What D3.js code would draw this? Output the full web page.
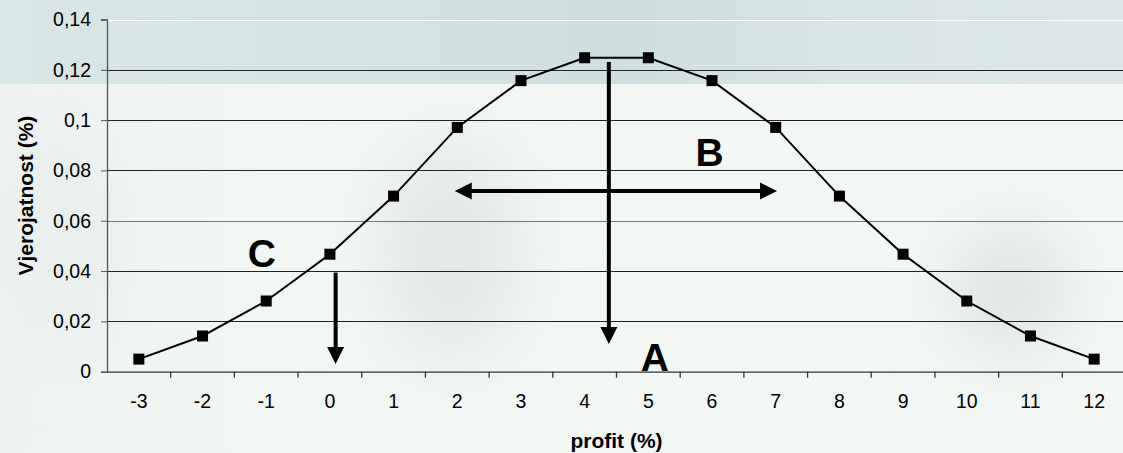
<!DOCTYPE html>
<html>
<head>
<meta charset="utf-8">
<script src="https://cdn.jsdelivr.net/npm/d3@7"></script>
<style>
  html, body { margin: 0; padding: 0; background: #f1f6f3; }
  svg { display: block; }
  text { font-family: "Liberation Sans", Arial, sans-serif; fill: #000; }
</style>
</head>
<body>
<svg id="chart" width="1123" height="453"></svg>
<script>
// ---- data ----
const categories = [-3, -2, -1, 0, 1, 2, 3, 4, 5, 6, 7, 8, 9, 10, 11, 12];
const probability = [0.005, 0.0142, 0.0281, 0.0467, 0.0698, 0.0971, 0.1157, 0.1248,
                     0.1248, 0.1157, 0.0971, 0.0698, 0.0467, 0.0281, 0.0142, 0.005];
const yTicks = [0, 0.02, 0.04, 0.06, 0.08, 0.1, 0.12, 0.14];
const xTitle = "profit (%)";
const yTitle = "Vjerojatnost (%)";
// annotation arrows in data units
const arrows = [
  { x1: 4.38, y1: 0.1231, x2: 4.38, y2: 0.0110, both: false },
  { x1: 1.96, y1: 0.0718, x2: 7.02, y2: 0.0718, both: true },
  { x1: 0.09, y1: 0.0394, x2: 0.09, y2: 0.0031, both: false }
];
const letters = [
  { t: "A", x: 5.10, y: 0.0004 },
  { t: "B", x: 5.96, y: 0.0819 },
  { t: "C", x: -1.07, y: 0.0417 }
];

// ---- layout ----
const W = 1123, H = 453;
const pLeft = 107, pRight = 1126, pTop = 19.5, pBottom = 371.7;
const svg = d3.select("#chart");

// ---- background ----
const defs = svg.append("defs");
const g1 = defs.append("linearGradient").attr("id", "band").attr("x1", 0).attr("x2", 1).attr("y1", 0).attr("y2", 0);
[[0, "#dae6e6"], [0.35, "#d4e2e2"], [0.55, "#cfdede"], [0.75, "#d9e4e4"], [1, "#dce6e6"]]
  .forEach(([o, c]) => g1.append("stop").attr("offset", o).attr("stop-color", c));
const g2 = defs.append("linearGradient").attr("id", "low").attr("x1", 0).attr("x2", 1).attr("y1", 0).attr("y2", 0);
[[0, "#eef3f1"], [0.3, "#f2f7f4"], [1, "#f2f7f4"]]
  .forEach(([o, c]) => g2.append("stop").attr("offset", o).attr("stop-color", c));
defs.append("filter").attr("id", "blur").attr("x", "-50%").attr("y", "-50%").attr("width", "200%").attr("height", "200%")
  .append("feGaussianBlur").attr("stdDeviation", 35);

svg.append("rect").attr("x", 0).attr("y", 0).attr("width", W).attr("height", H).attr("fill", "url(#low)");
const blobs = svg.append("g").attr("filter", "url(#blur)");
blobs.append("ellipse").attr("cx", 450).attr("cy", 250).attr("rx", 70).attr("ry", 110).attr("fill", "#e3e8e5");
blobs.append("ellipse").attr("cx", 1010).attr("cy", 290).attr("rx", 55).attr("ry", 60).attr("fill", "#dde2df");
blobs.append("ellipse").attr("cx", 60).attr("cy", 240).attr("rx", 50).attr("ry", 110).attr("fill", "#e8eeeb");
svg.append("rect").attr("x", 0).attr("y", 0).attr("width", W).attr("height", 84).attr("fill", "url(#band)");

// ---- scales ----
const x = d3.scaleBand().domain(categories).range([pLeft, pRight]).padding(0);
const bw = x.bandwidth();
const xc = d => x(d) + bw / 2;
const xLin = d3.scaleLinear().domain([categories[0], categories[categories.length - 1]])
  .range([xc(categories[0]), xc(categories[categories.length - 1])]);
const y = d3.scaleLinear().domain([0, 0.14]).range([pBottom, pTop]);
const fmt = d => d === 0 ? "0" : d3.format(".2~f")(d).replace(".", ",");

// ---- gridlines ----
svg.append("g").selectAll("line").data(yTicks.filter(d => d > 0)).join("line")
  .attr("x1", pLeft).attr("x2", pRight)
  .attr("y1", d => Math.round(y(d)) + 0.5).attr("y2", d => Math.round(y(d)) + 0.5)
  .attr("stroke", d => d === 0.14 ? "#ffffff" : (d === 0.06 ? "#777" : "#222"))
  .attr("stroke-width", 1.2);

// ---- axes ----
const yAxis = svg.append("g").attr("transform", `translate(${pLeft},0)`)
  .call(d3.axisLeft(y).tickValues(yTicks).tickFormat(fmt).tickSize(6).tickPadding(10));
yAxis.select(".domain").attr("stroke", "#555").attr("stroke-width", 1.3);
yAxis.selectAll(".tick line").attr("stroke", "#555");
yAxis.selectAll("text").style("font-size", "19.5px").style("font-family", "Liberation Sans, Arial, sans-serif");

const xAxis = svg.append("g").attr("transform", `translate(0,${pBottom})`)
  .call(d3.axisBottom(x).tickSize(0).tickPadding(22));
xAxis.select(".domain").attr("stroke", "#333").attr("stroke-width", 1.3);
xAxis.selectAll("text").style("font-size", "19.5px").style("font-family", "Liberation Sans, Arial, sans-serif");
svg.append("g").selectAll("line").data(categories.slice(1)).join("line")
  .attr("x1", d => x(d)).attr("x2", d => x(d))
  .attr("y1", pBottom).attr("y2", pBottom + 6)
  .attr("stroke", "#333").attr("stroke-width", 1.3);

// ---- series ----
const pts = categories.map((c, i) => ({ c, v: probability[i] }));
svg.append("path").datum(pts)
  .attr("d", d3.line().x(d => xc(d.c)).y(d => y(d.v)))
  .attr("fill", "none").attr("stroke", "#000").attr("stroke-width", 2);
const ms = 11;
svg.append("g").selectAll("rect").data(pts).join("rect")
  .attr("x", d => xc(d.c) - ms / 2).attr("y", d => y(d.v) - ms / 2)
  .attr("width", ms).attr("height", ms).attr("fill", "#000");

// ---- annotations ----
const headLen = 17, headHalf = 8.5;
function arrowHead(px, py, dx, dy) {
  const len = Math.hypot(dx, dy), ux = dx / len, uy = dy / len;
  const bx = px - ux * headLen, by = py - uy * headLen;
  return `M${px},${py}L${bx - uy * headHalf},${by + ux * headHalf}L${bx + uy * headHalf},${by - ux * headHalf}Z`;
}
const ag = svg.append("g");
arrows.forEach(a => {
  const X1 = xLin(a.x1), Y1 = y(a.y1), X2 = xLin(a.x2), Y2 = y(a.y2);
  const dx = X2 - X1, dy = Y2 - Y1, len = Math.hypot(dx, dy), ux = dx / len, uy = dy / len;
  const sx = a.both ? X1 + ux * (headLen - 2) : X1, sy = a.both ? Y1 + uy * (headLen - 2) : Y1;
  ag.append("line").attr("x1", sx).attr("y1", sy)
    .attr("x2", X2 - ux * (headLen - 2)).attr("y2", Y2 - uy * (headLen - 2))
    .attr("stroke", "#000").attr("stroke-width", 4);
  ag.append("path").attr("d", arrowHead(X2, Y2, dx, dy)).attr("fill", "#000");
  if (a.both) ag.append("path").attr("d", arrowHead(X1, Y1, -dx, -dy)).attr("fill", "#000");
});
svg.append("g").selectAll("text").data(letters).join("text")
  .attr("x", d => xLin(d.x)).attr("y", d => y(d.y))
  .attr("text-anchor", "middle")
  .style("font-size", "39px").style("font-weight", "bold")
  .text(d => d.t);

// ---- titles ----
svg.append("text").attr("x", (pLeft + pRight) / 2).attr("y", 448)
  .attr("text-anchor", "middle").style("font-size", "21px").style("font-weight", "bold").text(xTitle);
svg.append("text").attr("transform", `translate(33,${(pTop + pBottom) / 2}) rotate(-90)`)
  .attr("text-anchor", "middle").style("font-size", "21px").style("font-weight", "bold").text(yTitle);
</script>
</body>
</html>
